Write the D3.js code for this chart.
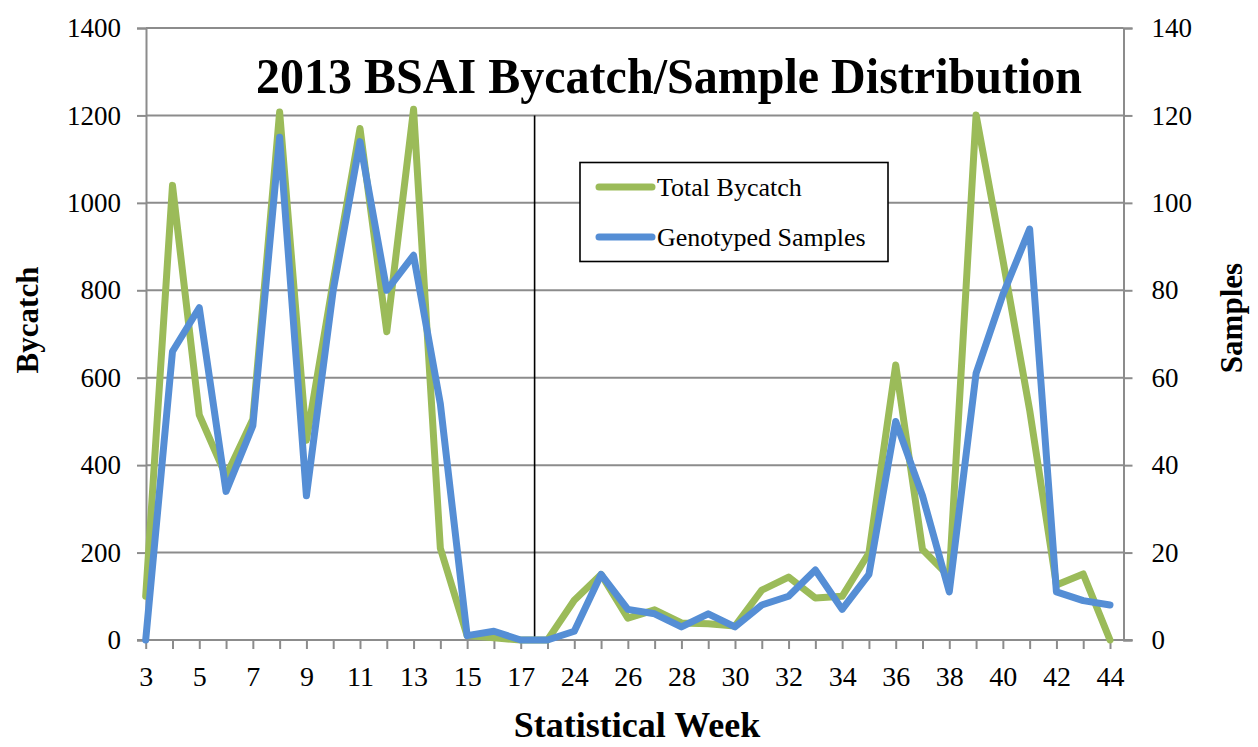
<!DOCTYPE html>
<html>
<head>
<meta charset="utf-8">
<script src="https://cdn.jsdelivr.net/npm/d3@7"></script>
<style>
  html, body { margin: 0; padding: 0; background: #fff; }
  svg { display: block; font-family: "Liberation Serif", "Times New Roman", serif; }
</style>
</head>
<body>
<svg id="chart" width="1258" height="747"></svg>
<script>
// ---- data ----
const weeks = ["3","4","5","6","7","8","9","10","11","12","13","14","15","16","17","18",
  "24","25","26","27","28","29","30","31","32","33","34","35","36","37","38","39","40","41","42","43","44"];
const weekLabelsShown = ["3","5","7","9","11","13","15","17","24","26","28","30","32","34","36","38","40","42","44"];
const totalBycatch = [100,1040,515,375,505,1208,457,820,1170,705,1214,210,10,5,0,0,
  91,150,50,69,39,37,32,114,144,96,100,199,629,207,145,1201,870,526,126,151,0];
const genotypedSamples = [0,66,76,34,49,115,33,80,114,80,88,54,1,2,0,0,
  2,15,7,6,3,6,3,8,10,16,7,15,50,33,11,61,79,94,11,9,8];
const leftTicks = [0,200,400,600,800,1000,1200,1400];
const rightTicks = [0,20,40,60,80,100,120,140];
const seriesNames = ["Total Bycatch","Genotyped Samples"];
const seriesColors = ["#9BBB59","#558ED5"];
const titleText = "2013 BSAI Bycatch/Sample Distribution";

// ---- layout ----
const svg = d3.select("#chart");
const plotL = 146, plotR = 1123.5, plotT = 28, plotB = 640;
const x = d3.scalePoint().domain(weeks).range([145.7, 1110]);
const yL = d3.scaleLinear().domain([0,1400]).range([plotB, plotT]);
const yR = d3.scaleLinear().domain([0,140]).range([plotB, plotT]);
const gridColor = "#8c8c8c";
const serif = "Liberation Serif";

// gridlines
svg.append("g").selectAll("line").data(leftTicks.filter(d => d > 0)).join("line")
  .attr("x1", plotL).attr("x2", plotR)
  .attr("y1", d => yL(d)).attr("y2", d => yL(d))
  .attr("stroke", gridColor).attr("stroke-width", 2);

// left axis
const leftAxis = d3.axisLeft(yL).tickValues(leftTicks).tickSize(9).tickPadding(16).tickFormat(d3.format("d"));
const gl = svg.append("g").attr("transform", `translate(${plotL},0)`).call(leftAxis);
gl.attr("font-family", serif);
gl.select(".domain").attr("stroke", gridColor).attr("stroke-width", 2);
gl.selectAll(".tick line").attr("stroke", gridColor).attr("stroke-width", 2);
gl.selectAll(".tick text").attr("font-family", serif).attr("font-size", 27).attr("fill", "#000");

// right axis
const rightAxis = d3.axisRight(yR).tickValues(rightTicks).tickSize(9).tickPadding(19).tickFormat(d3.format("d"));
const gr = svg.append("g").attr("transform", `translate(${plotR},0)`).call(rightAxis);
gr.attr("font-family", serif);
gr.select(".domain").attr("stroke", gridColor).attr("stroke-width", 2);
gr.selectAll(".tick line").attr("stroke", gridColor).attr("stroke-width", 2);
gr.selectAll(".tick text").attr("font-family", serif).attr("font-size", 27).attr("fill", "#000");

// bottom axis
const bottomAxis = d3.axisBottom(x).tickSize(9).tickPadding(17)
  .tickFormat(d => weekLabelsShown.includes(d) ? d : "");
const gb = svg.append("g").attr("transform", `translate(0,${plotB})`).call(bottomAxis);
gb.attr("font-family", serif);
gb.select(".domain").remove();
gb.append("line").attr("x1", plotL - 9).attr("x2", plotR + 9).attr("y1", 0).attr("y2", 0)
  .attr("stroke", gridColor).attr("stroke-width", 2);
gb.selectAll(".tick line").attr("stroke", gridColor).attr("stroke-width", 2);
gb.selectAll(".tick text").attr("font-family", serif).attr("font-size", 28).attr("fill", "#000");

// vertical divider line between week 17 and the later weeks
svg.append("line")
  .attr("x1", (x("17") + x("18")) / 2 + 0.5).attr("x2", (x("17") + x("18")) / 2 + 0.5)
  .attr("y1", yL(1200)).attr("y2", plotB)
  .attr("stroke", "#000").attr("stroke-width", 1.6);

// lines
const lineL = d3.line().x((d, i) => x(weeks[i])).y(d => yL(d));
const lineR = d3.line().x((d, i) => x(weeks[i])).y(d => yR(d));
svg.append("path").datum(totalBycatch).attr("d", lineL)
  .attr("fill", "none").attr("stroke", seriesColors[0]).attr("stroke-width", 7)
  .attr("stroke-linejoin", "round").attr("stroke-linecap", "round");
svg.append("path").datum(genotypedSamples).attr("d", lineR)
  .attr("fill", "none").attr("stroke", seriesColors[1]).attr("stroke-width", 7)
  .attr("stroke-linejoin", "round").attr("stroke-linecap", "round");

// title
svg.append("text").attr("x", 669).attr("y", 93).attr("text-anchor", "middle")
  .attr("font-size", 51).attr("font-weight", "bold")
  .attr("textLength", 826).attr("lengthAdjust", "spacingAndGlyphs")
  .text(titleText);

// axis titles
svg.append("text").attr("transform", "translate(38,320) rotate(-90)")
  .attr("text-anchor", "middle").attr("font-size", 31).attr("font-weight", "bold").text("Bycatch");
svg.append("text").attr("transform", "translate(1242,318) rotate(-90)")
  .attr("text-anchor", "middle").attr("font-size", 31).attr("font-weight", "bold").text("Samples");
svg.append("text").attr("x", 637).attr("y", 737)
  .attr("text-anchor", "middle").attr("font-size", 36).attr("font-weight", "bold").text("Statistical Week");

// legend
const lg = svg.append("g");
lg.append("rect").attr("x", 580).attr("y", 162.5).attr("width", 308).attr("height", 99)
  .attr("fill", "#fff").attr("stroke", "#000").attr("stroke-width", 1.6);
const legendY = [187, 237];
seriesNames.forEach((name, i) => {
  lg.append("line").attr("x1", 599).attr("x2", 652).attr("y1", legendY[i]).attr("y2", legendY[i])
    .attr("stroke", seriesColors[i]).attr("stroke-width", 7).attr("stroke-linecap", "round");
  lg.append("text").attr("x", 657).attr("y", legendY[i] + 9).attr("font-size", 26).text(name);
});
</script>
</body>
</html>
